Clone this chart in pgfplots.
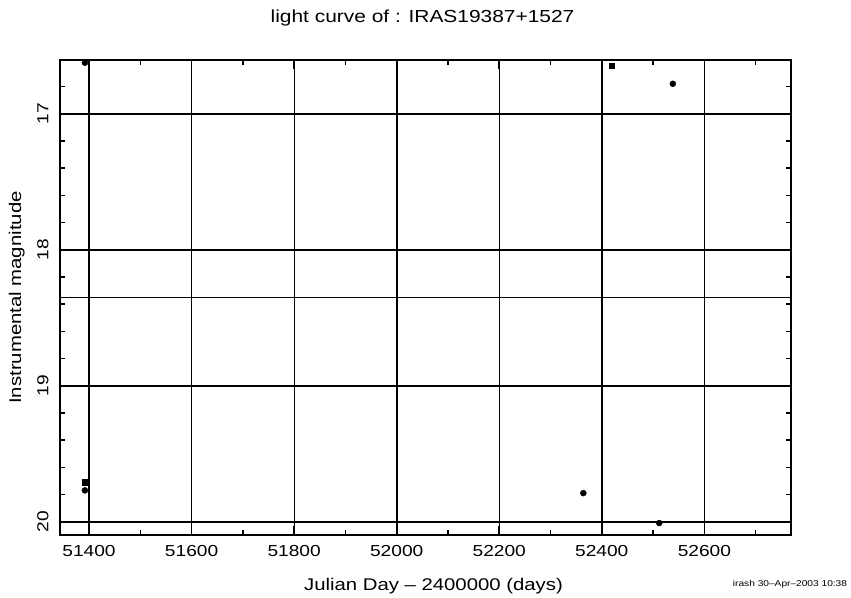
\documentclass[border=0pt]{standalone}
\usepackage{fontspec}
\setmainfont{Liberation Sans}[FakeStretch=1.2]
\usepackage{pgfplots}
\pgfplotsset{compat=1.18}
\begin{document}
\begin{tikzpicture}[x=1bp,y=1bp]
\path (0,0) rectangle (851,596);
\begin{axis}[
  at={(60bp,61bp)}, anchor=south west,
  width=731bp, height=475bp, scale only axis,
  xmin=51343.4, xmax=52769,
  ymin=16.605, ymax=20.098, y dir=reverse,
  axis line style={line width=2bp},
  xtick={51400,51600,...,52600},
  extra x ticks={51400,52000,52400}, extra x tick labels={},
  extra x tick style={major x grid style={line width=2bp,black}},
  ytick={17,18,19,20},
  extra y ticks={18.353}, extra y tick labels={},
  extra y tick style={major y grid style={line width=0.9bp,black}, major tick length=0pt},
  minor xtick={51400,51500,...,52700},
  minor ytick={16.8,17.0,17.2,17.4,17.6,17.8,18.0,18.2,18.4,18.6,18.8,19.0,19.2,19.4,19.6,19.8,20.0},
  xmajorgrids, ymajorgrids,
  major x grid style={line width=0.9bp,black},
  major y grid style={line width=2bp,black},
  tick align=inside,
  major tick length=9bp, minor tick length=5bp,
  every tick/.style={black,line width=1.5bp},
  scaled x ticks=false, scaled y ticks=false,
  /pgf/number format/.cd, 1000 sep={}, assume math mode=true, /pgfplots/.cd,
  tick label style={font=\fontsize{16}{18}\selectfont},
  xticklabel style={yshift=-7bp},
  yticklabel style={rotate=90, anchor=south, yshift=8bp},
  title={light curve of : IRAS19387+1527},
  title style={at={(axis description cs:0.5,1)}, anchor=center, yshift=36bp, xshift=-3bp, font=\fontsize{17.5}{19}\selectfont},
  xlabel={Julian Day -- 2400000 (days)},
  xlabel style={at={(axis description cs:0.5,0)}, anchor=center, yshift=-51bp, xshift=8bp, font=\fontsize{17}{19}\selectfont},
  ylabel={Instrumental magnitude},
  ylabel style={at={(axis description cs:-0.059,0.5)}, anchor=center, font=\fontsize{17}{19}\selectfont},
  clip=false,
]
\addplot[only marks, mark=*, mark size=3bp, black] coordinates {
  (51392,16.625) (51392,19.77) (52364,19.79) (52512,20.01) (52538.5,16.78)
};
\addplot[only marks, mark=square*, mark size=2.8bp, black] coordinates {
  (51392.5,19.71) (52419.5,16.647)
};
\end{axis}
\node[anchor=center, font=\fontsize{8.5}{10}\selectfont] at (790,12) {irash 30--Apr--2003 10:38};
\end{tikzpicture}
\end{document}
